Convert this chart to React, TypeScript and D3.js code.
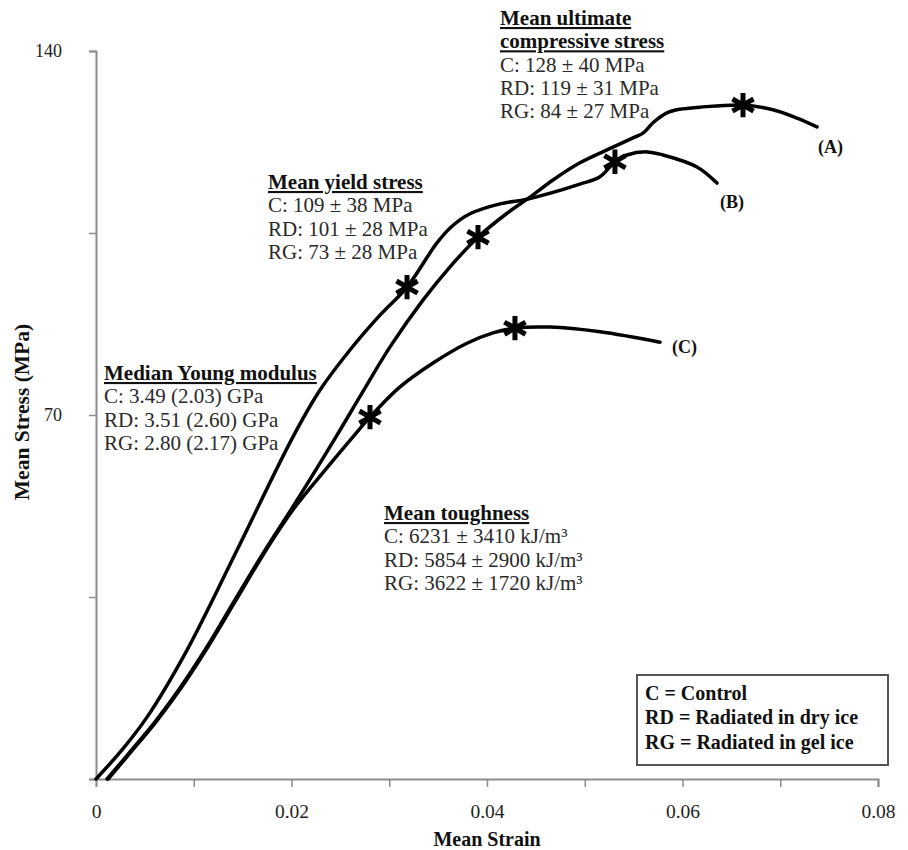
import { useEffect, useRef } from "react";
import * as d3 from "d3";

const WIDTH = 908;
const HEIGHT = 850;
const FONT = "'Liberation Serif', 'Times New Roman', serif";

// curve (A)
const strainA = [0.00113, 0.00348, 0.00604, 0.00859, 0.01115, 0.0142, 0.01729, 0.02026, 0.02455, 0.02721, 0.03008, 0.03345, 0.03622, 0.03908, 0.04205, 0.0444, 0.04675, 0.04951, 0.05289, 0.05494, 0.05596, 0.05698, 0.05841, 0.05974, 0.06179, 0.06619, 0.06926, 0.07171, 0.07376];
const stressA = [0, 5.2, 11.0, 17.5, 24.8, 34.4, 44.0, 52.7, 65.8, 74.2, 83.1, 92.1, 98.5, 104.2, 108.8, 111.9, 115.2, 118.5, 121.5, 123.3, 124.2, 126.2, 128.1, 128.8, 129.2, 129.6, 128.7, 127.1, 125.4];

// curve (B)
const strainB = [0, 0.00266, 0.00522, 0.00931, 0.01442, 0.02015, 0.02292, 0.02598, 0.02905, 0.03182, 0.03488, 0.03642, 0.03826, 0.04133, 0.04409, 0.04951, 0.05156, 0.05309, 0.05432, 0.05637, 0.058, 0.06148, 0.06353];
const stressB = [0, 5.6, 11.9, 24.8, 44.0, 65.8, 74.8, 82.5, 89.2, 94.6, 103.1, 106.3, 108.7, 110.6, 111.5, 114.4, 115.8, 118.7, 120.0, 120.6, 120.0, 117.7, 114.6];

// curve (C)
const strainC = [0.00123, 0.00358, 0.00614, 0.0087, 0.01125, 0.01432, 0.01739, 0.02036, 0.02343, 0.02629, 0.02803, 0.0311, 0.03448, 0.03795, 0.04061, 0.04286, 0.04645, 0.05156, 0.0577];
const stressC = [0, 5.2, 11.0, 17.5, 24.8, 34.4, 44.0, 52.3, 59.4, 65.8, 69.6, 75.4, 80.0, 83.8, 85.8, 86.7, 86.9, 86.0, 84.0];

// asterisk markers (yield and ultimate points)
const starStrain = [0.03908, 0.03182, 0.02803, 0.06619, 0.05309, 0.04286];
const starStress = [104.2, 94.6, 69.6, 129.6, 118.7, 86.7];

const curveLabels = ["(A)", "(B)", "(C)"];
const curveLabelStrain = [0.07386, 0.06384, 0.05893];
const curveLabelStress = [120.4, 109.8, 81.9];

const xTicks = [0, 0.01, 0.02, 0.03, 0.04, 0.05, 0.06, 0.07, 0.08];
const xTickLabels = ["0", "", "0.02", "", "0.04", "", "0.06", "", "0.08"];
const yTicks = [0, 35, 70, 105, 140];
const yTickLabels = ["", "", "70", "", "140"];

const notes = [
  { head: ["Mean ultimate", "compressive stress"], rows: ["C: 128 ± 40 MPa", "RD: 119 ± 31 MPa", "RG: 84 ± 27 MPa"], x: 500, y: 25 },
  { head: ["Mean yield stress"], rows: ["C: 109 ± 38 MPa", "RD: 101 ± 28 MPa", "RG: 73 ± 28 MPa"], x: 268, y: 189 },
  { head: ["Median Young modulus"], rows: ["C: 3.49 (2.03) GPa", "RD: 3.51 (2.60) GPa", "RG: 2.80 (2.17) GPa"], x: 104, y: 380 },
  { head: ["Mean toughness"], rows: ["C: 6231 ± 3410 kJ/m³", "RD: 5854 ± 2900 kJ/m³", "RG: 3622 ± 1720 kJ/m³"], x: 384, y: 520 },
];

const legendRows = ["C = Control", "RD = Radiated in dry ice", "RG = Radiated in gel ice"];

export default function App() {
  const svgRef = useRef<SVGSVGElement>(null);

  useEffect(() => {
    const svg = d3.select(svgRef.current);
    svg.selectAll("*").remove();

    const x = d3.scaleLinear().domain([0, 0.08]).range([96, 878]);
    const y = d3.scaleLinear().domain([0, 140]).range([779, 51]);
    const axisColor = "#8c8c8c";

    // y axis
    const gy = svg
      .append("g")
      .attr("transform", `translate(${x(0)},0)`)
      .call(
        d3
          .axisLeft(y)
          .tickValues(yTicks)
          .tickSize(7)
          .tickFormat((_, i) => yTickLabels[i])
      );
    gy.select(".domain").attr("stroke", axisColor).attr("stroke-width", 2);
    gy.selectAll(".tick line").attr("stroke", axisColor).attr("stroke-width", 1.5);
    gy.selectAll(".tick text")
      .attr("fill", "#222")
      .attr("font-family", FONT)
      .attr("font-size", 18)
      .attr("x", -34);

    // x axis
    const gx = svg
      .append("g")
      .attr("transform", `translate(0,${y(0)})`)
      .call(
        d3
          .axisBottom(x)
          .tickValues(xTicks)
          .tickSize(8)
          .tickFormat((_, i) => xTickLabels[i])
      );
    gx.select(".domain").attr("stroke", axisColor).attr("stroke-width", 2);
    gx.selectAll(".tick line").attr("stroke", axisColor).attr("stroke-width", 1.5);
    gx.selectAll(".tick text")
      .attr("fill", "#222")
      .attr("font-family", FONT)
      .attr("font-size", 19.5)
      .attr("y", 25);

    svg
      .append("text")
      .attr("x", 487)
      .attr("y", 846)
      .attr("text-anchor", "middle")
      .attr("font-family", FONT)
      .attr("font-weight", "bold")
      .attr("font-size", 20)
      .attr("fill", "#111")
      .text("Mean Strain");

    svg
      .append("text")
      .attr("transform", `translate(29,412) rotate(-90)`)
      .attr("text-anchor", "middle")
      .attr("font-family", FONT)
      .attr("font-weight", "bold")
      .attr("font-size", 21.5)
      .attr("fill", "#111")
      .text("Mean Stress (MPa)");

    // curves
    const line = d3
      .line<[number, number]>()
      .x((d) => x(d[0]))
      .y((d) => y(d[1]))
      .curve(d3.curveCatmullRom.alpha(0.5));

    const series: [number[], number[]][] = [
      [strainA, stressA],
      [strainB, stressB],
      [strainC, stressC],
    ];
    series.forEach(([sx, sy]) => {
      const pts = sx.map((v, i) => [v, sy[i]] as [number, number]);
      svg
        .append("path")
        .datum(pts)
        .attr("d", line)
        .attr("fill", "none")
        .attr("stroke", "#000")
        .attr("stroke-width", 3.5)
        .attr("stroke-linecap", "round");
    });

    // asterisks
    const star = d3.symbol().type(d3.symbolAsterisk).size(420);
    starStrain.forEach((s, i) => {
      svg
        .append("path")
        .attr("d", star())
        .attr("transform", `translate(${x(s)},${y(starStress[i])})`)
        .attr("fill", "none")
        .attr("stroke", "#000")
        .attr("stroke-width", 5);
    });

    // curve labels
    curveLabels.forEach((t, i) => {
      svg
        .append("text")
        .attr("x", x(curveLabelStrain[i]))
        .attr("y", y(curveLabelStress[i]))
        .attr("font-family", FONT)
        .attr("font-weight", "bold")
        .attr("font-size", 18)
        .attr("fill", "#111")
        .text(t);
    });

    // annotation blocks
    notes.forEach((n) => {
      const g = svg.append("g").attr("font-family", FONT).attr("font-size", 21).attr("fill", "#222");
      const lines = [...n.head, ...n.rows];
      lines.forEach((t, i) => {
        const isHead = i < n.head.length;
        g.append("text")
          .attr("x", n.x)
          .attr("y", n.y + i * 23.3)
          .attr("font-weight", isHead ? "bold" : "normal")
          .style("text-decoration", isHead ? "underline" : "none")
          .attr("fill", isHead ? "#111" : "#2a2a2a")
          .text(t);
      });
    });

    // legend box
    svg
      .append("rect")
      .attr("x", 637)
      .attr("y", 675)
      .attr("width", 251)
      .attr("height", 90)
      .attr("fill", "#fff")
      .attr("stroke", "#555")
      .attr("stroke-width", 2);
    legendRows.forEach((t, i) => {
      svg
        .append("text")
        .attr("x", 645)
        .attr("y", 699.5 + i * 24.5)
        .attr("font-family", FONT)
        .attr("font-weight", "bold")
        .attr("font-size", 20)
        .attr("fill", "#111")
        .text(t);
    });
  }, []);

  return (
    <svg
      ref={svgRef}
      width={WIDTH}
      height={HEIGHT}
      style={{ position: "absolute", left: 0, top: 0, background: "#fff" }}
    />
  );
}
